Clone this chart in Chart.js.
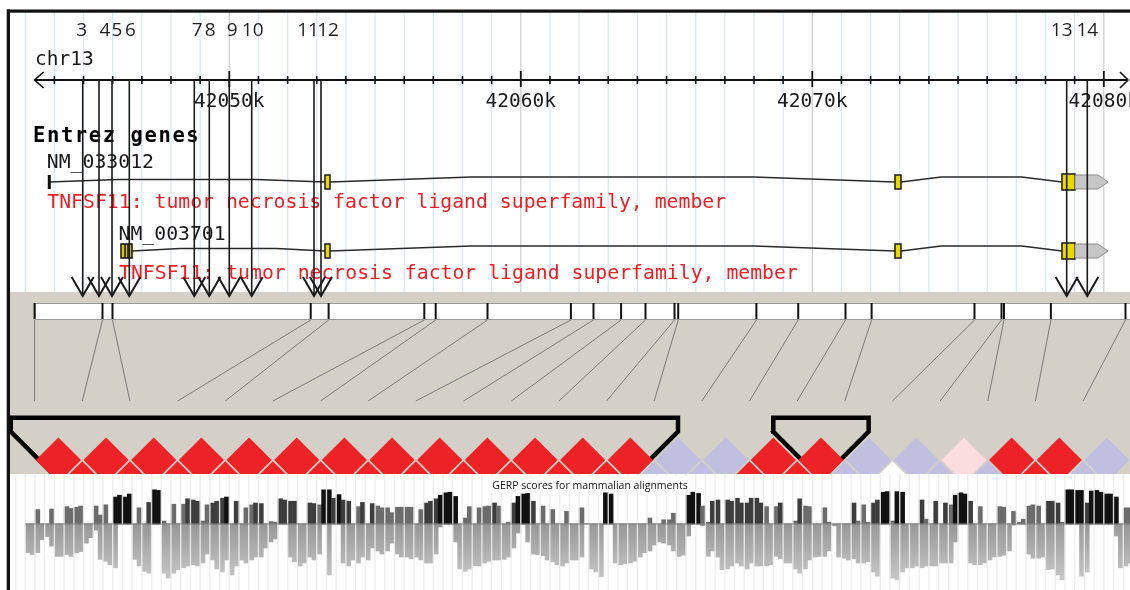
<!DOCTYPE html>
<html>
<head>
<meta charset="utf-8">
<script src="https://cdn.jsdelivr.net/npm/chart.js@4.4.0/dist/chart.umd.min.js"></script>
<style>
  html, body { margin: 0; padding: 0; background: #fff; }
</style>
</head>
<body>
<canvas id="chart" width="1130" height="590"></canvas>
<script>
// ---- ruler (chr13, kb) ----
const rulerMajorKb = [42050, 42060, 42070, 42080];
const rulerMajorLabels = ['42050k', '42060k', '42070k', '42080k'];

// ---- numbered SNPs pointed at from the ruler ----
const snpLabels = ['3', '4', '5', '6', '7', '8', '9', '10', '11', '12', '13', '14'];
const snpKb = [42044.971, 42045.530, 42045.976, 42046.570, 42048.799, 42049.314,
               42050.000, 42050.769, 42052.906, 42053.146, 42078.727, 42079.434];
const snpLabelNudge = [-1, 6, 5, 1, 3, 1, 3, 1, -6, 7, -5, 0]; // px, keeps digits apart

// ---- Entrez gene models ----
const txNames = ['NM_033012', 'NM_003701'];
const txDesc = 'TNFSF11: tumor necrosis factor ligand superfamily, member';
const txStartKb = [42043.825, 42046.285];
const txFirstExonKb = [null, [42046.285, 42046.662]];
const txExonKb = [[42053.283, 42053.455], [42072.837, 42073.043], [42078.565, 42079.011]];
const txUtrKb = [42079.011, 42080.146];

// ---- Haploview marker bar + LD ----
const barSnpKb = [42043.321, 42045.650, 42045.993, 42052.793, 42053.407, 42056.690,
                  42057.081, 42058.858, 42061.719, 42062.494, 42063.441, 42064.278,
                  42065.273, 42065.400, 42068.082, 42069.517, 42071.139, 42072.035,
                  42075.564, 42076.491, 42076.577, 42078.185, 42080.744, 42081.585];
// R = strong LD, B = D'=1 low LOD, P = weak, W = none
const ldAdjacent = ['R','R','R','R','R','R','R','R','R','R','R','R','R',
                    'B','B','R','R','B','B','P','R','R','B'];
const ldSkipOne = ['R','R','R','R','R','R','R','R','R','R','R','R',
                   'B','B','R','R','B','W','B','B','R','B'];
const ldBlocks = [[0, 13], [16, 17]];

// ---- GERP scores, 1/6 kb bins ----
const gerpStartKb = 42043.0;
const gerpStepKb = 1 / 6;
const gerpPos = [
  0, 0, 2.4, 0, 0, 2.5, 0, 0, 2.9, 2.6,
  2.8, 3.0, 0, 0, 3.0, 1.5, 3.2, 0, 4.5, 4.8,
  4.5, 5.0, 0, 2.7, 0, 3.6, 5.7, 5.6, 0.5, 0,
  3.3, 0, 3.3, 4.2, 4.0, 3.8, 0.5, 3.2, 3.5, 3.8,
  4.3, 4.5, 0, 3.8, 0, 2.7, 3.2, 3.5, 3.4, 0,
  0.4, 0.3, 4.2, 4.0, 3.8, 3.8, 0, 0, 3.5, 3.4,
  3.2, 5.7, 5.7, 4.3, 4.9, 4.0, 3.8, 0, 2.9, 3.6,
  0, 3.4, 3.0, 2.7, 2.7, 1.9,
  2.8, 2.8, 2.8, 2.8, 0, 2.4, 3.5, 3.8, 4.2, 4.8,
  5.2, 5.3, 4.6, 0, 1.0, 2.9, 0, 2.7, 2.9, 3.0,
  3.5, 3.0, 0, 0.3, 3.5, 4.6, 5.0, 5.1, 3.8, 0,
  3.0, 0, 2.4, 0, 0, 2.1, 0, 0, 2.7, 0,
  0, 0, 0, 5.2, 5.0, 0, 0, 0, 0, 0,
  0, 0, 1.0, 0, 0, 0.7, 0.7, 1.8, 0, 0,
  4.8, 5.3, 5.1, 3.0, 0.3, 3.8, 4.0, 0, 4.0, 3.8,
  4.3, 3.5, 3.5, 4.3, 4.3,
  3.5, 2.9, 0, 2.9, 3.5, 0, 0, 0.5, 4.2, 3.0,
  2.9, 0, 0, 2.7, 0.3, 0, 0, 0, 0, 3.5,
  0.5, 3.2, 0.3, 3.5, 4.0, 5.3, 5.4, 0.5, 5.4, 5.3,
  0, 0, 0, 4.0, 0.8, 0, 3.8, 0, 3.5, 3.2,
  4.8, 5.2, 5.0, 3.8, 0, 2.9, 0, 0, 0, 2.9,
  2.8, 0, 2.1, 0.3, 0.8, 3.0, 3.2, 3.0, 0, 3.8,
  3.8, 3.5, 0.3, 5.7, 5.7, 5.6, 5.6, 3.5, 5.5, 5.6,
  5.3, 5.0, 5.0, 4.5, 0, 2.7, 2.7
];
const gerpNeg = [
  -4.8, -5.1, -4.8, -2.6, -2.1, -3.7, -5.4, -5.4, -5.1, -5.4,
  -4.8, -4.6, -3.2, -2.3, -1.0, -5.9, -6.2, -6.8, -7.3, 0,
  0, 0, -5.9, -7.0, -7.9, -8.2, 0, 0, -8.2, -9.0,
  -8.2, -7.6, -7.3, -7.0, -6.8, -7.0, -6.5, -5.0, -6.0, -7.5,
  -8.0, -6.0, -8.5, -7.0, -6.0, -6.5, -6.0, -5.5, -5.5, -4.0,
  -3.0, -2.5, 0, 0, -5.5, -6.3, -7.0, -6.5, -5.5, -6.0,
  -5.0, 0, -8.5, 0, 0, -6.5, -7.0, -6.0, -6.5, -5.5,
  -6.0, -4.0, -4.5, -5.0, -4.5, -3.2,
  -5.0, -5.5, -5.5, -5.8, -5.5, -6.0, -6.5, -6.5, -5.0, -0.5,
  0, 0, -3.0, -7.5, -7.9, -7.5, -7.0, -7.0, -6.5, -6.2,
  -6.0, -6.0, -5.9, -5.5, -4.0, -1.5, 0, -3.0, -5.0, -5.1,
  -5.3, -6.0, -6.3, -6.8, -7.0, -6.5, -6.0, -6.0, -5.5, 0,
  -7.5, -8.0, -8.8, 0, 0, -6.5, -6.8, -6.6, -6.5, -6.2,
  -5.5, -4.8, -4.5, -3.5, -3.0, -3.2, -3.5, -4.5, -5.4, -5.2,
  -2.0, 0, 0, -0.3, -5.4, -4.5, -5.5, -7.6, -7.5, -7.0,
  -6.5, -7.0, -7.5, -6.5, -7.0,
  -7.0, -7.0, -6.8, -5.4, -5.8, -6.5, -6.5, -7.5, -8.2, -7.5,
  -6.0, -5.5, -5.4, -5.4, -4.5, -0.3, -5.5, -5.7, -6.0, -5.8,
  -6.5, -6.5, -6.3, -8.0, -8.7, 0, 0, -9.0, -9.3, -8.0,
  -7.3, -7.3, -7.0, -7.3, -7.0, -7.0, -7.0, -6.5, -6.5, -6.5,
  -3.0, 0, 0, -6.5, -6.8, -6.8, -6.5, -6.0, -5.5, -5.4,
  -5.2, -4.5, -0.2, 0, 0, -5.0, -5.7, -5.7, -5.5, -7.6,
  -7.5, -8.5, -9.3, 0, 0, 0, -8.7, -8.0, 0, 0,
  0, 0, 0, -2.0, -7.3, -7.0, -6.5
];

// ---- layout (px) ----
const Y = {
  numbers: 31, chrText: 65, ruler: 80, rulerLabel: 107, entrez: 142,
  tx: [182, 251], txName: [168, 240], txDesc: [208, 279],
  arrowHead: 277, arrowTip: 296,
  ldTop: 292, ldBottom: 474, barTop: 303, barBottom: 319, connEnd: 401,
  gerpTitle: 489
};
const LD_COLORS = { R: '#ec2226', B: '#c0bfdf', P: '#fbdde0', W: '#ffffff' };
const MONO = '"DejaVu Sans Mono", monospace';

function seg(ctx, x1, y1, x2, y2, w, c) {
  ctx.lineWidth = w;
  ctx.strokeStyle = c;
  ctx.beginPath();
  ctx.moveTo(x1, y1);
  ctx.lineTo(x2, y2);
  ctx.stroke();
}

function label(ctx, str, x, y, font, color, align) {
  ctx.font = font;
  ctx.fillStyle = color;
  ctx.textAlign = align || 'left';
  ctx.textBaseline = 'alphabetic';
  ctx.fillText(str, x, y);
}

const tracks = {
  id: 'tracks',
  beforeDatasetsDraw(chart) {
    const { ctx, scales } = chart;
    const x = scales.x;
    ctx.save();
    // browser guidelines, one per kb
    for (let kb = 42043; kb <= 42081; kb++) {
      const px = x.getPixelForValue(kb);
      seg(ctx, px, 12, px, Y.ldTop, 1.3, kb % 10 === 0 ? '#d0d0d0' : '#d6ebf5');
    }
    // Haploview panel
    ctx.fillStyle = '#d4d0c8';
    ctx.fillRect(10, Y.ldTop, 1120, Y.ldBottom - Y.ldTop);
    ctx.restore();
  },
  afterDatasetsDraw(chart) {
    const { ctx, scales } = chart;
    const x = scales.x, xm = scales.xm, yg = scales.yg;
    ctx.save();

    // GERP guidelines over the bars
    for (let k = -1; k <= 115; k++) {
      const px = x.getPixelForValue(gerpStartKb + k / 3);
      if (px < 12) continue;
      seg(ctx, px, Y.ldBottom, px, 590, 1.4, 'rgba(236,236,236,0.9)');
    }
    const base = yg.getPixelForValue(0);
    seg(ctx, x.getPixelForValue(gerpStartKb), base, 1130, base, 1, '#8a8a8a');
    ctx.font = '10.5px "Open Sans", sans-serif';
    const title = 'GERP scores for mammalian alignments';
    const tw = ctx.measureText(title).width;
    ctx.fillStyle = '#fff';
    ctx.fillRect(590 - tw / 2 - 4, Y.ldBottom + 2, tw + 8, 16);
    label(ctx, title, 590, Y.gerpTitle, '10.5px "Open Sans", sans-serif', '#111', 'center');

    // marker bar
    const barL = x.getPixelForValue(barSnpKb[0]);
    ctx.fillStyle = '#fff';
    ctx.fillRect(barL, Y.barTop, 1130 - barL, Y.barBottom - Y.barTop);
    ctx.strokeStyle = '#9a9a9a';
    ctx.lineWidth = 1;
    ctx.strokeRect(barL + 0.5, Y.barTop + 0.5, 1140 - barL, Y.barBottom - Y.barTop);
    barSnpKb.forEach((kb, i) => {
      const px = x.getPixelForValue(kb);
      seg(ctx, px, Y.barTop, px, Y.barBottom, 2, '#111');
      seg(ctx, px, Y.barBottom + 1, xm.getPixelForValue(i), Y.connEnd, 1, '#7a7a7a');
    });

    // chr13 ruler
    const rl = x.getPixelForValue(42043.321), rr = 1128;
    seg(ctx, rl, Y.ruler, rr, Y.ruler, 1.8, '#111');
    ctx.lineWidth = 1.6;
    ctx.beginPath();
    ctx.moveTo(rl + 9, Y.ruler - 8); ctx.lineTo(rl, Y.ruler); ctx.lineTo(rl + 9, Y.ruler + 8);
    ctx.moveTo(rr - 8, Y.ruler - 8); ctx.lineTo(rr, Y.ruler); ctx.lineTo(rr - 8, Y.ruler + 8);
    ctx.stroke();
    for (let kb = 42044; kb <= 42080; kb++) {
      const px = x.getPixelForValue(kb);
      if (kb % 10 === 0) seg(ctx, px, Y.ruler - 9, px, Y.ruler + 7, 1.8, '#111');
      else seg(ctx, px, Y.ruler - 4, px, Y.ruler + 4, 1.6, '#111');
    }
    rulerMajorKb.forEach((kb, i) => {
      label(ctx, rulerMajorLabels[i], x.getPixelForValue(kb), Y.rulerLabel, '19.5px ' + MONO, '#1a1a1a', 'center');
    });
    label(ctx, 'chr13', 35, Y.chrText, '19.5px ' + MONO, '#1a1a1a');

    // Entrez genes track
    ctx.letterSpacing = '1.6px';
    label(ctx, 'Entrez genes', 33, Y.entrez, 'bold 20.5px ' + MONO, '#000');
    ctx.letterSpacing = '0px';
    txNames.forEach((name, t) => {
      const ly = Y.tx[t];
      const sx = x.getPixelForValue(txStartKb[t]);
      label(ctx, name, sx - 2.5, Y.txName[t], '19.8px ' + MONO, '#1a1a1a');
      // introns drawn as shallow hats between exons
      const blocks = [];
      if (txFirstExonKb[t]) blocks.push(txFirstExonKb[t]);
      else blocks.push([txStartKb[t], txStartKb[t]]);
      txExonKb.forEach(e => blocks.push(e));
      ctx.strokeStyle = '#2a2a2a';
      ctx.lineWidth = 1.5;
      for (let b = 0; b < blocks.length - 1; b++) {
        const a = x.getPixelForValue(blocks[b][1]);
        const c = x.getPixelForValue(blocks[b + 1][0]);
        const lift = b === 0 ? 2.5 : 5;
        ctx.beginPath();
        ctx.moveTo(a, ly);
        ctx.lineTo(a + (c - a) * 0.25, ly - lift);
        ctx.lineTo(a + (c - a) * 0.75, ly - lift);
        ctx.lineTo(c, ly);
        ctx.stroke();
      }
      if (!txFirstExonKb[t]) {
        seg(ctx, sx, ly - 7, sx, ly + 7, 3, '#111');
      } else {
        const e0 = x.getPixelForValue(txFirstExonKb[t][0]);
        const e1 = x.getPixelForValue(txFirstExonKb[t][1]);
        ctx.fillStyle = '#d8c800';
        ctx.fillRect(e0, ly - 7, e1 - e0, 14);
        ctx.strokeStyle = '#111';
        ctx.lineWidth = 1.5;
        ctx.strokeRect(e0, ly - 7, e1 - e0, 14);
        seg(ctx, e0 + 4, ly - 7, e0 + 4, ly + 7, 1.5, '#111');
        seg(ctx, e0 + 7, ly - 7, e0 + 7, ly + 7, 1.5, '#111');
      }
      txExonKb.forEach((e, k) => {
        const e0 = x.getPixelForValue(e[0]);
        const e1 = x.getPixelForValue(e[1]);
        const h = k === txExonKb.length - 1 ? 8 : 7;
        ctx.fillStyle = '#e8d800';
        ctx.fillRect(e0, ly - h, e1 - e0, 2 * h);
        ctx.strokeStyle = '#1a1a1a';
        ctx.lineWidth = 1.5;
        ctx.strokeRect(e0, ly - h, e1 - e0, 2 * h);
      });
      const u0 = x.getPixelForValue(txUtrKb[0]);
      const u1 = x.getPixelForValue(txUtrKb[1]);
      ctx.beginPath();
      ctx.moveTo(u0, ly - 7);
      ctx.lineTo(u1 - 10, ly - 7);
      ctx.lineTo(u1, ly);
      ctx.lineTo(u1 - 10, ly + 7);
      ctx.lineTo(u0, ly + 7);
      ctx.closePath();
      ctx.fillStyle = '#c6c6c6';
      ctx.fill();
      ctx.strokeStyle = '#8a8a8a';
      ctx.lineWidth = 1;
      ctx.stroke();
      label(ctx, txDesc, sx - 2, Y.txDesc[t], '19.8px ' + MONO, '#f01d24');
    });

    // numbered SNP arrows
    snpKb.forEach((kb, i) => {
      const px = x.getPixelForValue(kb);
      seg(ctx, px, Y.ruler, px, Y.arrowTip, 1.6, '#1a1a1a');
      ctx.lineWidth = 2;
      ctx.beginPath();
      ctx.moveTo(px - 11, Y.arrowHead);
      ctx.lineTo(px, Y.arrowTip);
      ctx.lineTo(px + 11, Y.arrowHead);
      ctx.stroke();
      ctx.font = '19px "Open Sans", sans-serif';
      ctx.fillStyle = '#231f20';
      ctx.textAlign = 'center';
      ctx.textBaseline = 'middle';
      ctx.fillText(snpLabels[i], px + snpLabelNudge[i], Y.numbers);
    });

    // frame
    ctx.fillStyle = '#111';
    ctx.fillRect(7, 9.5, 1123, 3.2);
    ctx.fillRect(6.7, 9.5, 3.3, 580.5);
    ctx.restore();
  }
};

const gerpX = i => gerpStartKb + (i + 0.5) * gerpStepKb;
const gerpClip = { left: -24, top: -Y.ldBottom, right: 0, bottom: 0 };
const ldClip = { left: -10, top: -Y.ldTop, right: 0, bottom: -(590 - Y.ldBottom) };

const ldPoints = [], ldFill = [];
ldAdjacent.forEach((c, i) => { ldPoints.push({ x: i + 0.5, y: 1 }); ldFill.push(LD_COLORS[c]); });
ldSkipOne.forEach((c, i) => { ldPoints.push({ x: i + 1, y: 2 }); ldFill.push(LD_COLORS[c]); });

// block outline: flat top, short drops, then 45 degree sides toward the apex
const blockSets = ldBlocks.map(([a, b]) => {
  const top = -0.775, corner = -0.19;
  return {
    type: 'scatter', xAxisID: 'xm', yAxisID: 'ym', showLine: true,
    data: [
      { x: a - 0.5, y: corner }, { x: a - 0.5, y: top }, { x: b + 0.5, y: top },
      { x: b + 0.5, y: corner }, { x: (a + b) / 2, y: corner + (b - a + 1) },
      { x: a - 0.5, y: corner }
    ],
    borderColor: '#000', borderWidth: 4.5, pointRadius: 0,
    borderJoinStyle: 'miter', borderCapStyle: 'square', clip: ldClip
  };
});

// negative GERP bars fade from mid grey at the baseline to light grey at depth
let negFill = null;
function negGradient(c) {
  const sc = c.chart.scales.yg;
  const y0 = sc ? sc.getPixelForValue(0) : NaN;
  const y1 = sc ? sc.getPixelForValue(-10) : NaN;
  if (!isFinite(y0) || !isFinite(y1) || y0 === y1) return '#aaaaaa';
  if (!negFill) {
    negFill = c.chart.ctx.createLinearGradient(0, y0, 0, y1);
    negFill.addColorStop(0, '#979797');
    negFill.addColorStop(1, '#cbcbcb');
  }
  return negFill;
}

new Chart(document.getElementById('chart'), {
  type: 'scatter',
  data: {
    datasets: [
      {
        type: 'bar', label: 'GERP +', xAxisID: 'x', yAxisID: 'yg',
        data: gerpPos.map((v, i) => ({ x: gerpX(i), y: v })),
        backgroundColor: c => {
          const v = c.raw ? c.raw.y : 0;
          return v >= 4.5 ? '#111111' : v >= 3.4 ? '#3d3d3d' : '#6c6c6c';
        },
        barPercentage: 1, categoryPercentage: 1, grouped: false, borderWidth: 0, clip: gerpClip
      },
      {
        type: 'bar', label: 'GERP -', xAxisID: 'x', yAxisID: 'yg',
        data: gerpNeg.map((v, i) => ({ x: gerpX(i), y: v })),
        backgroundColor: negGradient,
        barPercentage: 1, categoryPercentage: 1, grouped: false, borderWidth: 0, clip: gerpClip
      },
      {
        type: 'scatter', label: 'LD', xAxisID: 'xm', yAxisID: 'ym',
        data: ldPoints,
        pointStyle: 'rectRot', pointRadius: 22.6, pointHoverRadius: 22.6,
        pointBackgroundColor: ldFill, pointBorderWidth: 0, clip: ldClip
      },
      ...blockSets
    ]
  },
  options: {
    responsive: false, animation: false, events: [],
    layout: { padding: 0, autoPadding: false },
    plugins: { legend: { display: false }, tooltip: { enabled: false } },
    scales: {
      x: { type: 'linear', axis: 'x', display: false, bounds: 'data', offset: false, min: 42042.134, max: 42080.899 },
      y: { type: 'linear', axis: 'y', display: false, bounds: 'data', min: 0, max: 590, reverse: true },
      xm: { type: 'linear', axis: 'x', display: false, bounds: 'data', offset: false, min: -0.726, max: 22.984 },
      ym: { type: 'linear', axis: 'y', display: false, bounds: 'data', min: -18.3034, max: 6.4553, reverse: true },
      yg: { type: 'linear', axis: 'y', display: false, bounds: 'data', min: -11, max: 87.333 }
    }
  },
  plugins: [tracks]
});
</script>
</body>
</html>
